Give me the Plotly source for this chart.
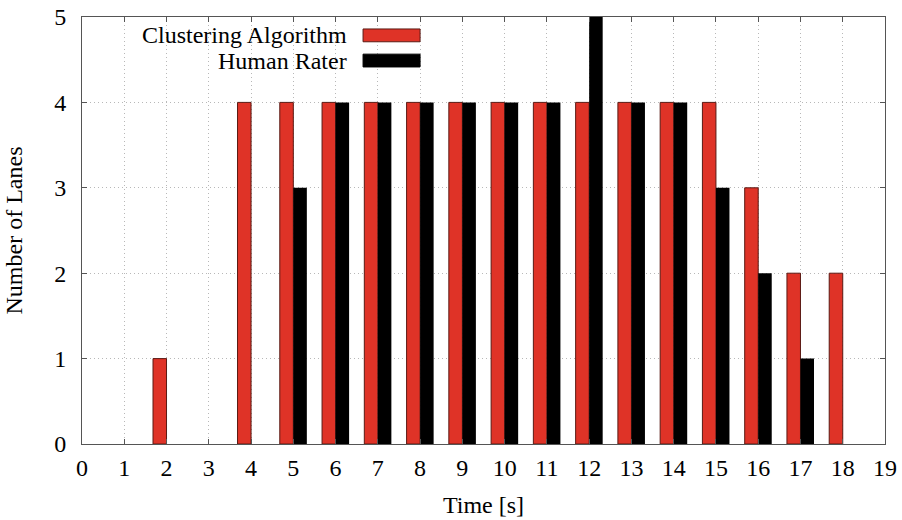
import plotly.graph_objects as go

time_s = [2, 4, 5, 6, 7, 8, 9, 10, 11, 12, 13, 14, 15, 16, 17, 18]
clustering = [1, 4, 4, 4, 4, 4, 4, 4, 4, 4, 4, 4, 4, 3, 2, 2]
human = [0, 0, 3, 4, 4, 4, 4, 4, 4, 5, 4, 4, 3, 2, 1, 0]
x_ticks = list(range(0, 20))
y_ticks = list(range(0, 6))

RED = "#df3327"
FONT = "Liberation Serif"
FS = 24
BW = 0.32

fig = go.Figure()
fig.add_trace(go.Bar(x=time_s, y=clustering, width=BW, offset=-BW,
                     marker=dict(color=RED, line=dict(color="#5a1a14", width=1)),
                     name="Clustering Algorithm", showlegend=False))
fig.add_trace(go.Bar(x=time_s, y=human, width=BW, offset=0,
                     marker=dict(color="#000000", line=dict(width=0)),
                     name="Human Rater", showlegend=False))

axis_common = dict(
    showline=True, linecolor="#555555", linewidth=1, mirror="ticks",
    ticks="inside", ticklen=5, tickcolor="#555555",
    showgrid=True, gridcolor="#b8b8b8", griddash="1px,3px", gridwidth=1,
    zeroline=False, automargin=False,
    tickfont=dict(family=FONT, size=FS, color="#000"),
)

fig.update_layout(
    width=902, height=520,
    margin=dict(l=82, r=17, t=17, b=76),
    plot_bgcolor="white", paper_bgcolor="white",
    barmode="overlay", showlegend=False,
    font=dict(family=FONT, color="#000"),
    xaxis=dict(range=[0, 19], tickvals=x_ticks, ticktext=[str(v) for v in x_ticks],
               title=dict(text="Time [s]", font=dict(family=FONT, size=FS), standoff=16),
               ticklabelstandoff=2,
               **axis_common),
    yaxis=dict(range=[0, 5], tickvals=y_ticks, ticktext=[str(v) for v in y_ticks],
               title=dict(text="Number of Lanes", font=dict(family=FONT, size=FS), standoff=24),
               ticklabelstandoff=10,
               **axis_common),
)

# legend area (clears grid like gnuplot's key box)
fig.add_shape(type="rect", xref="paper", yref="paper",
              x0=0.022, x1=0.435, y0=0.864, y1=0.998,
              fillcolor="white", line=dict(width=0), layer="between")

legend_items = [("Clustering Algorithm", RED, "#5a1a14", 0.957),
                ("Human Rater", "#000000", "#000000", 0.898)]
for name, fill, edge, yc in legend_items:
    fig.add_annotation(text=name, xref="paper", yref="paper", x=0.3325, y=yc,
                       xanchor="right", yanchor="middle", showarrow=False,
                       font=dict(family=FONT, size=FS, color="#000"))
    fig.add_shape(type="rect", xref="paper", yref="paper",
                  x0=0.35, x1=0.421, y0=yc - 0.015, y1=yc + 0.015,
                  fillcolor=fill, line=dict(color=edge, width=1), layer="above")

fig.write_html("out.html")
